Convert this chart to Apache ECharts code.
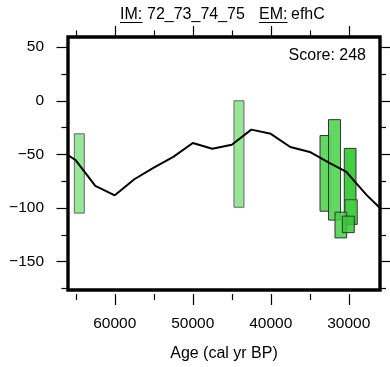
<!DOCTYPE html>
<html>
<head>
<meta charset="utf-8">
<script src="https://cdn.jsdelivr.net/npm/echarts@6/dist/echarts.min.js"></script>
<style>
html,body{margin:0;padding:0;background:#fff;}
#chart{width:390px;height:367px;}
</style>
</head>
<body>
<div id="chart"></div>
<script>
// ---- data ----
const lineAges   = [67500, 65000, 62500, 60000, 57500, 55000, 52500, 50000, 47500, 45000, 42500, 40000, 37500, 35000, 32500, 30300, 29200, 27700, 26200, 25000];
const lineValues = [-43.5, -55.5, -79.4, -88.2, -73.2, -62.4, -52.3, -39.4, -44.7, -41.0, -26.9, -30.8, -43.1, -47.7, -58.0, -66.4, -75.6, -88.0, -98.6, -107.0];

const barAgeOld   = [65190, 44720, 33690, 32600, 30580, 30490, 31770, 30830];
const barAgeYoung = [63910, 43440, 32320, 31060, 29080, 28910, 30270, 29300];
const barTop      = [-30.8,   0.0, -32.4, -17.6, -44.4, -92.3, -103.9, -107.6];
const barBottom   = [-104.8, -99.3, -103.0, -111.3, -115.3, -115.3, -127.9, -123.0];

const xMajorTicks = [60000, 50000, 40000, 30000];
const xMinorTicks = [65000, 55000, 45000, 35000];
const yMajorTicks = [50, 0, -50, -100, -150];
const yMinorTicks = [25, -25, -75, -125, -175];

const titleIM = '72_73_74_75';
const titleEM = 'efhC';
const scoreText = 'Score: 248';
const xAxisTitle = 'Age (cal yr BP)';

// ---- styles ----
const barFills = ['#98e698', '#98e698', 'rgba(90,214,90,0.95)', 'rgba(90,214,90,0.95)', 'rgba(55,204,55,0.95)', 'rgba(70,208,70,0.75)', 'rgba(70,208,70,0.85)', 'rgba(55,200,55,0.85)'];
const barStrokes = ['#666', '#666', '#333', '#333', '#333', '#444', '#333', '#333'];

const FONT = 'Liberation Sans, Arial, Helvetica, sans-serif';
const chart = echarts.init(document.getElementById('chart'), null, {renderer: 'canvas'});

const lineData = lineAges.map((a, i) => [a, lineValues[i]]);
const barData = barAgeOld.map((a, i) => [a, barAgeYoung[i], barTop[i], barBottom[i]]);

const fmtY = v => (v < 0 ? '\u2212' + Math.abs(v) : String(v));

function xAx(pos, ticks, len, withLabels, offset) {
  return {
    type: 'value', position: pos, min: 26000, max: 66000, inverse: true, offset: offset || 0,
    axisLine: {show: false, onZero: false}, splitLine: {show: false},
    axisTick: {show: true, inside: false, length: len, customValues: ticks, lineStyle: {color: '#000', width: 1.2}},
    axisLabel: withLabels ? {show: true, customValues: ticks, formatter: v => String(v), fontFamily: FONT, fontSize: 15.5, color: '#000', margin: 22} : {show: false},
    name: withLabels ? xAxisTitle : '', nameLocation: 'middle', nameGap: 52,
    nameTextStyle: {fontFamily: FONT, fontSize: 16, color: '#000'}
  };
}
function yAx(pos, ticks, len, withLabels) {
  return {
    type: 'value', position: pos, min: -176.5, max: 59.5,
    axisLine: {show: false, onZero: false}, splitLine: {show: false},
    axisTick: {show: true, inside: false, length: len, customValues: ticks, lineStyle: {color: '#000', width: 1.2}},
    axisLabel: withLabels ? {show: true, customValues: ticks, formatter: fmtY, fontFamily: FONT, fontSize: 15.5, color: '#000', margin: 24} : {show: false}
  };
}

const option = {
  animation: false,
  backgroundColor: '#fff',
  grid: {left: 68, right: 10, top: 37, bottom: 74, show: true, borderColor: '#000', borderWidth: 3.4, backgroundColor: '#fff', containLabel: false},
  xAxis: [
    xAx('bottom', xMajorTicks, 11, true, 4),
    xAx('bottom', xMinorTicks, 6, false, 4),
    xAx('top', xMajorTicks, 11, false, 0),
    xAx('top', xMinorTicks, 6.5, false, 0)
  ],
  yAxis: [
    yAx('left', yMajorTicks, 11.5, true),
    yAx('left', yMinorTicks, 6.5, false),
    yAx('right', yMajorTicks, 11, false),
    yAx('right', yMinorTicks, 6, false)
  ],
  series: [
    {
      type: 'custom', xAxisIndex: 0, yAxisIndex: 0, clip: true, z: 2,
      data: barData,
      renderItem: function (params, api) {
        const p1 = api.coord([api.value(0), api.value(2)]);
        const p2 = api.coord([api.value(1), api.value(3)]);
        const i = params.dataIndex;
        return {
          type: 'rect',
          shape: {x: Math.min(p1[0], p2[0]), y: Math.min(p1[1], p2[1]), width: Math.abs(p2[0] - p1[0]), height: Math.abs(p2[1] - p1[1])},
          style: {fill: barFills[i], stroke: barStrokes[i], lineWidth: 1}
        };
      }
    },
    {
      type: 'line', xAxisIndex: 0, yAxisIndex: 0, data: lineData, showSymbol: false, symbol: 'none', clip: true, z: 3,
      lineStyle: {color: '#000', width: 2}
    }
  ],
  graphic: [
    {type: 'text', left: 120, top: 7, style: {text: 'IM:', font: '16px ' + FONT, fill: '#000'}},
    {type: 'line', shape: {x1: 120, y1: 22.5, x2: 142.5, y2: 22.5}, style: {stroke: '#000', lineWidth: 1}},
    {type: 'text', left: 147, top: 7, style: {text: titleIM, font: '16px ' + FONT, fill: '#000'}},
    {type: 'text', left: 259, top: 7, style: {text: 'EM:', font: '16px ' + FONT, fill: '#000'}},
    {type: 'line', shape: {x1: 259, y1: 22.5, x2: 287.5, y2: 22.5}, style: {stroke: '#000', lineWidth: 1}},
    {type: 'text', left: 291, top: 7, style: {text: titleEM, font: '16px ' + FONT, fill: '#000'}},
    {type: 'text', right: 24, top: 48, style: {text: scoreText, font: '16px ' + FONT, fill: '#000'}}
  ]
};
chart.setOption(option);
</script>
</body>
</html>
